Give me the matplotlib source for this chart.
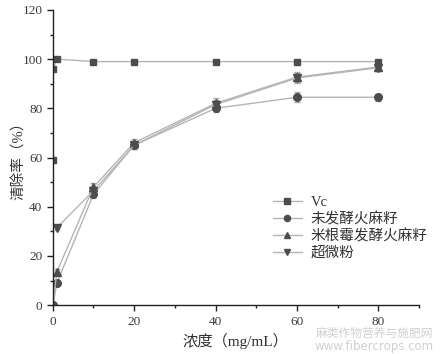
import matplotlib
matplotlib.use("Agg")
import matplotlib.pyplot as plt
from matplotlib.ticker import MultipleLocator

plt.rcParams['font.family'] = ['Liberation Serif', 'Noto Sans CJK SC', 'DejaVu Sans']

vc_x = [0.05, 0.1, 1, 10, 20, 40, 60, 80]
vc_y = [59, 96, 100, 99, 99, 99, 99, 99]

raw_x = [0, 1, 10, 20, 40, 60, 80]
raw_y = [0, 9, 45, 65, 80, 84.5, 84.5]
raw_e = [0, 1, 1.5, 1.5, 1.5, 2, 1.5]

fer_x = [0, 1, 10, 20, 40, 60, 80]
fer_y = [0, 13.5, 48, 66, 82, 92.7, 96.8]
fer_e = [0, 1, 1.5, 1.5, 2, 2, 1.5]

ufp_x = [1, 10, 20, 40, 60, 80]
ufp_y = [31.5, 46.5, 65, 81.5, 92.3, 96.5]
ufp_e = [1, 1.5, 1.5, 2, 2, 1.5]

labels = ['Vc', '未发酵火麻籽', '米根霉发酵火麻籽', '超微粉']

mk = '#4d4d4d'
ln = '#b5b5b5'
ec = '#aaaaaa'

fig = plt.figure(figsize=(4.4, 3.54), dpi=100)
ax = fig.add_axes([0.12, 0.138, 0.832, 0.834])

ax.errorbar(raw_x, raw_y, yerr=raw_e, fmt='none', ecolor=ec, elinewidth=0.8, capsize=2)
ax.errorbar(fer_x, fer_y, yerr=fer_e, fmt='none', ecolor=ec, elinewidth=0.8, capsize=2)
ax.errorbar(ufp_x, ufp_y, yerr=ufp_e, fmt='none', ecolor=ec, elinewidth=0.8, capsize=2)

h1, = ax.plot(vc_x, vc_y, marker='s', ms=5, color=ln, mfc=mk, mec=mk, lw=1, label=labels[0])
h2, = ax.plot(raw_x, raw_y, marker='o', ms=5.5, color=ln, mfc=mk, mec=mk, lw=1, label=labels[1])
h3, = ax.plot(fer_x, fer_y, marker='^', ms=6, color=ln, mfc=mk, mec=mk, lw=1, label=labels[2])
h4, = ax.plot(ufp_x, ufp_y, marker='v', ms=6, color=ln, mfc=mk, mec=mk, lw=1, label=labels[3])

ax.set_xlim(0, 90)
ax.set_ylim(0, 120)
ax.xaxis.set_major_locator(MultipleLocator(20))
ax.xaxis.set_minor_locator(MultipleLocator(10))
ax.yaxis.set_major_locator(MultipleLocator(20))
ax.yaxis.set_minor_locator(MultipleLocator(10))
for s in ['top', 'right']:
    ax.spines[s].set_visible(False)
for s in ['left', 'bottom']:
    ax.spines[s].set_color('#222222')
    ax.spines[s].set_linewidth(1.0)
ax.tick_params(which='major', direction='out', length=4, width=1, labelsize=9.5,
               colors='#222222', labelcolor='#3a3a3a')
ax.tick_params(which='minor', direction='out', length=2.5, width=1, colors='#222222')

ax.set_xlabel('浓度（mg/mL）', fontsize=11, color='#333333', labelpad=4)
ax.set_ylabel('清除率（%）', fontsize=10.5, color='#333333')
ax.yaxis.set_label_coords(-0.072, 0.5)

leg = ax.legend(handles=[h1, h2, h3, h4], loc='upper left', bbox_to_anchor=(0.601, 0.37),
                frameon=False, fontsize=10.5, handlelength=2.0, handletextpad=0.6,
                labelspacing=0.2, borderaxespad=0, borderpad=0, markerscale=0.8)
for t in leg.get_texts():
    t.set_color('#333333')

fig.text(0.985, 0.057, '麻类作物营养与施肥网', ha='right', va='center', fontsize=8.5,
         color='#d0d0d0', family=['Noto Sans CJK SC'])
fig.text(0.985, 0.02, 'www.fibercrops.com', ha='right', va='center', fontsize=8.5,
         color='#d0d0d0', family=['DejaVu Sans'])

fig.savefig('out.png', dpi=100)
